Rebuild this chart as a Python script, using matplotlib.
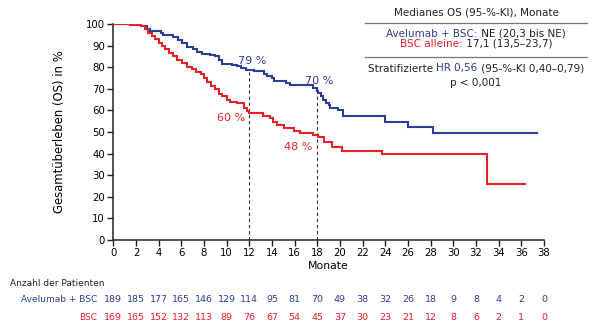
import matplotlib
matplotlib.use("Agg")
import matplotlib.pyplot as plt
import numpy as np
from matplotlib.lines import Line2D
import matplotlib.transforms as mtransforms

plt.rcParams['font.family'] = ['DejaVu Sans']

BLUE = '#2b3f95'
RED = '#e8202a'

# Kaplan-Meier step data (months, OS %)
blue_t = [0, 1.5, 2.4, 3.0, 3.2, 4.2, 4.4, 5.3, 5.7, 6.1, 6.5, 7.0, 7.4, 7.8, 8.5, 9.0,
          9.3, 9.6, 10.5, 10.9, 11.3, 11.7, 12.4, 13.3, 13.6, 14.0, 14.2, 15.2, 15.6,
          17.65, 18.0, 18.1, 18.3, 18.5, 18.8, 19.0, 19.1, 19.8, 20.3, 24.0, 26.0, 28.2, 37.4]
blue_s = [100, 99.6, 99.2, 97.8, 96.6, 95.8, 95.0, 94.0, 92.5, 91.0, 89.5, 88.2, 87.2, 86.3,
          85.8, 85.0, 83.5, 81.5, 81.0, 80.4, 79.6, 78.9, 78.1, 77.0, 76.0, 74.8, 73.6, 72.6,
          71.8, 70.6, 69.0, 67.9, 66.5, 64.8, 63.5, 62.5, 60.9, 60.2, 57.6, 54.8, 52.5, 49.6, 49.6]

red_t = [0, 1.5, 2.4, 2.8, 3.1, 3.4, 3.7, 4.0, 4.3, 4.6, 4.9, 5.3, 5.6, 6.1, 6.5, 6.9, 7.3,
         7.7, 8.0, 8.3, 8.6, 9.0, 9.3, 9.6, 10.0, 10.3, 10.9, 11.5, 11.8, 12.0, 13.2, 13.8,
         14.1, 14.4, 15.1, 15.9, 16.5, 17.6, 18.1, 18.6, 19.3, 20.2, 23.7, 33.0, 36.3]
red_s = [100, 99.5, 99.0, 97.5, 96.0, 94.5, 93.0, 91.0, 89.8, 88.5, 86.5, 85.0, 83.5, 82.0,
         80.0, 79.0, 78.0, 77.0, 75.0, 73.0, 71.5, 70.0, 67.5, 66.5, 65.0, 64.0, 63.4, 61.0,
         59.5, 58.8, 57.3, 56.3, 54.5, 53.2, 51.7, 50.6, 49.7, 48.6, 47.5, 45.5, 43.2, 41.3,
         39.8, 25.8, 25.8]

# landmarks
landmark_months = [12, 18]
landmark_tops = [78, 68]
blue_labels = ['79 %', '70 %']
blue_label_pos = [(11.0, 82.8), (16.9, 73.6)]
red_labels = ['60 %', '48 %']
red_label_pos = [(11.6, 56.5), (17.6, 43.0)]

# numbers at risk
risk_months = list(range(0, 39, 2))
risk_blue = [189, 185, 177, 165, 146, 129, 114, 95, 81, 70, 49, 38, 32, 26, 18, 9, 8, 4, 2, 0]
risk_red = [169, 165, 152, 132, 113, 89, 76, 67, 54, 45, 37, 30, 23, 21, 12, 8, 6, 2, 1, 0]

x_ticks = list(range(0, 39, 2))
y_ticks = list(range(0, 101, 10))

fig = plt.figure(figsize=(6.0, 3.22), dpi=100)
ax = fig.add_axes([113.3/600, 1-240/322, (544-113.3)/600, (240-24)/322])

ax.step(blue_t, blue_s, where='post', color=BLUE, lw=1.5, solid_joinstyle='miter', zorder=3)
ax.step(red_t, red_s, where='post', color=RED, lw=1.5, solid_joinstyle='miter', zorder=3)

for m, top in zip(landmark_months, landmark_tops):
    ax.plot([m, m], [0, top], ls=(0, (3, 2.5)), color='#333333', lw=0.8, zorder=2)

for lab, (x, y) in zip(blue_labels, blue_label_pos):
    ax.text(x, y, lab, color=BLUE, fontsize=8, ha='left', va='center')
for lab, (x, y) in zip(red_labels, red_label_pos):
    ax.text(x, y, lab, color=RED, fontsize=8, ha='right', va='center')

ax.set_xlim(0, 38)
ax.set_ylim(0, 100)
ax.set_xticks(x_ticks)
ax.set_yticks(y_ticks)
ax.tick_params(direction='out', length=4, width=1, labelsize=7.3, pad=2, color='#222222')
for s in ['top', 'right']:
    ax.spines[s].set_visible(False)
for s in ['left', 'bottom']:
    ax.spines[s].set_linewidth(1.1)
    ax.spines[s].set_color('#222222')
ax.set_xlabel('Monate', fontsize=7.8, labelpad=2)
ax.set_ylabel('Gesamtüberleben (OS) in %', fontsize=8.4)
ax.yaxis.set_label_coords(-0.11, 0.5)

# numbers at risk
trans = mtransforms.blended_transform_factory(ax.transData, fig.transFigure)
fig.text(10/600, 1-283/322, 'Anzahl der Patienten', fontsize=6.5, ha='left', va='center',
         color='#222222')
fig.text(97/600, 1-299/322, 'Avelumab + BSC', fontsize=6.5, ha='right', va='center', color=BLUE)
fig.text(97/600, 1-317/322, 'BSC', fontsize=6.5, ha='right', va='center', color=RED)
for m, b, r in zip(risk_months, risk_blue, risk_red):
    ax.text(m, 1-299/322, str(b), transform=trans, fontsize=6.8, ha='center', va='center',
            color=BLUE, clip_on=False)
    ax.text(m, 1-317/322, str(r), transform=trans, fontsize=6.8, ha='center', va='center',
            color=RED, clip_on=False)

# legend block: multi-colour lines assembled piece by piece
renderer = fig.canvas.get_renderer()

def packed(parts, cx, cy_px, fs=7.5):
    arts = [fig.text(0, 0, t, color=c, fontsize=fs, ha='left', va='baseline') for t, c in parts]
    widths = [a.get_window_extent(renderer).width for a in arts]
    total = sum(widths)
    x0 = cx * 600 - total / 2
    y = 1 - (cy_px + 3.5) / 322
    for a, w in zip(arts, widths):
        a.set_position((x0 / 600, y))
        x0 += w

cx = 476/600
packed([('Medianes OS (95-%-KI), Monate', '#222222')], cx, 12)
fig.add_artist(Line2D([365/600, 587/600], [1-23/322, 1-23/322], color='#777777', lw=0.9))
packed([('Avelumab + BSC:', BLUE), (' NE (20,3 bis NE)', '#222222')], cx, 33.5)
packed([('BSC alleine:', RED), (' 17,1 (13,5–23,7)', '#222222')], cx, 43.5)
fig.add_artist(Line2D([365/600, 587/600], [1-57/322, 1-57/322], color='#777777', lw=0.9))
packed([('Stratifizierte ', '#222222'), ('HR 0,56', BLUE), (' (95-%-KI 0,40–0,79)', '#222222')],
       cx, 68)
packed([('p < 0,001', '#222222')], cx, 82)

fig.savefig('out.png', dpi=100)
